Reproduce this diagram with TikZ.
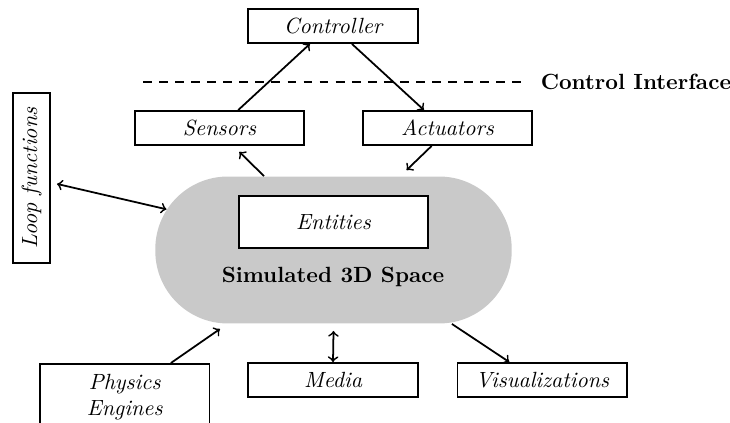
\documentclass[tikz,border=0pt]{standalone}
\usepackage{tikz}

\tikzset{
  box/.style={draw,thick,fill=white,minimum width=77pt,minimum height=15.5pt,font=\itshape},
  link/.style={thick,->},
}

\begin{document}
\begin{tikzpicture}[x=0.4545pt,y=-0.4545pt]
   \useasboundingbox (0,0) rectangle (730,423);
   % simulated space
   \node[fill=black!21,rounded corners=33pt,minimum width=162pt,minimum height=66.8pt,inner sep=0pt]
     (space) at (333.5,250) {};
   \node[box,minimum width=86pt,minimum height=23.6pt] (ent) at (333.5,222) {Entities};
   \node[font=\bfseries] (simlabel) at (333,277) {Simulated 3D Space};
   % controller side
   \node[box] (ctrl) at (333,26) {Controller};
   \node[box] (sens) at (219.5,128) {Sensors};
   \node[box] (act) at (447.5,128) {Actuators};
   \node[font=\bfseries,anchor=west] (ci) at (533,81.7) {Control Interface};
   \coordinate (dashstart) at (143,81.7);
   \draw[thick,dash pattern=on 4pt off 3.3pt] (dashstart) -- ([xshift=-4pt]ci.west);
   % loop functions
   \node[box,rotate=90,minimum height=16.8pt] (loop) at (31.7,178) {Loop functions};
   % bottom row
   \node[box,anchor=north,text width=70pt,align=center,minimum height=30pt] (phys) at (124.7,363) {Physics\\Engines};
   \node[box] (media) at (333,380) {Media};
   \node[box] (vis) at (542.3,380) {Visualizations};
   % connectors
   \draw[link] ([xshift=8.5pt]sens.north) -- ([xshift=-10.5pt]ctrl.south);
   \draw[link] ([xshift=8.6pt]ctrl.south) -- ([xshift=-10.7pt]act.north);
   \draw[link] ([xshift=-31.6pt]space.north) -- ([shift={(9pt,-2.7pt)}]sens.south);
   \draw[link] ([xshift=-7.2pt]act.south) -- ([shift={(33.2pt,2.7pt)}]space.north);
   \draw[thick,<->] ([shift={(2.7pt,-2.7pt)}]loop.south) -- ([shift={(5.3pt,18.5pt)}]space.west);
   \draw[link] ([xshift=21pt]phys.north) -- ([shift={(-51.6pt,-2.3pt)}]space.south);
   \draw[thick,<->] ([yshift=-3.2pt]space.south) -- (media.north);
   \draw[link] ([xshift=53.8pt]space.south) -- ([xshift=-15pt]vis.north);
\end{tikzpicture}
\end{document}
